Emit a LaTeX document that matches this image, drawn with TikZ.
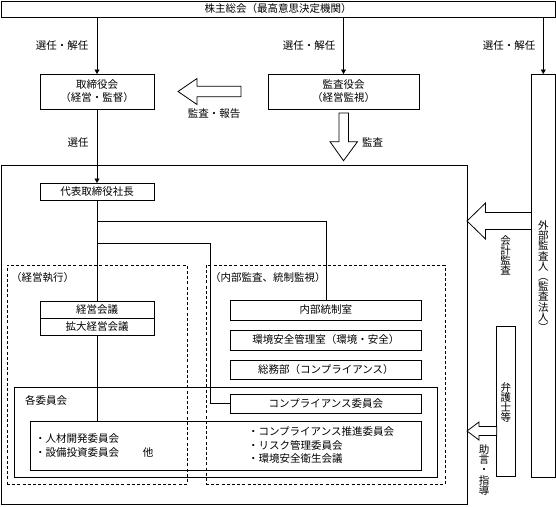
\documentclass[tikz,border=0pt]{standalone}
\usepackage{fontspec}
\newfontfamily\jp{Noto Sans CJK JP}
\usetikzlibrary{arrows.meta}
\newcommand\blkleft[6]{% tip x, y, head base x, end x, head half, shaft half
  \draw[hollow] (#1,#2) -- (#3,#2-#5) -- (#3,#2-#6) -- (#4,#2-#6) -- (#4,#2+#6) -- (#3,#2+#6) -- (#3,#2+#5) -- cycle;}
\begin{document}
\begin{tikzpicture}[x=1pt,y=-1pt,
  every node/.style={font=\jp\fontsize{10.5}{13}\selectfont, inner sep=0pt, outer sep=0pt},
  box/.style={draw, line width=0.8pt, align=center},
  conn/.style={line width=0.6pt},
  arr/.style={conn,-{Triangle[length=4.5pt,width=5pt]}},
  hollow/.style={draw, line width=0.8pt, fill=white, line join=miter},
  dashbox/.style={draw, line width=0.8pt, dash pattern=on 3pt off 2.2pt},
  vtext/.style={align=center, font=\jp\fontsize{10.5}{10.2}\selectfont}
]
\useasboundingbox (0,0) rectangle (556,506);

% top
\node[box, minimum width=554pt, minimum height=16pt] (top) at (278,9) {株主総会（最高意思決定機関）};
\node[box, minimum width=114pt, minimum height=35pt] (tori) at (97,91.5) {取締役会\\（経営・監督）};
\node[box, minimum width=151pt, minimum height=35pt] (kansa) at (343.5,91.5) {監査役会\\（経営監視）};
\node[box, minimum width=23.5pt, minimum height=403pt] (ext) at (543.25,275.5) {};
\node[vtext] (exttxt) at (543.25,276) {外\\部\\監\\査\\人\\︵\\監\\査\\法\\人\\︶};

\draw[arr] (tori.north |- top.south) -- (tori.north);
\draw[arr] (kansa.north |- top.south) -- (kansa.north);
\draw[arr] (ext.north |- top.south) -- (ext.north);
\node (l1) at (62,46) {選任・解任};
\node (l2) at (309,46) {選任・解任};
\node (l3) at (509,46) {選任・解任};

% block arrows top
\blkleft{178}{91.5}{197}{241}{13}{5.3}
\node (l4) at (214,114) {監査・報告};
\draw[hollow] (343.5,160.7) -- (330,141.7) -- (339,141.7) -- (339,113) -- (348.5,113) -- (348.5,141.7) -- (357.5,141.7) -- cycle;
\node (l5) at (372.7,142.7) {監査};

% big box
\node[box, minimum width=466pt, minimum height=339pt] (big) at (234,334.5) {};
\node[box, minimum width=114pt, minimum height=17pt] (daihyo) at (97,191.5) {代表取締役社長};
\draw[arr] (tori.south) -- (daihyo.north);
\node (l6) at (78,143) {選任};

% dashed groups
\node[dashbox, minimum width=180pt, minimum height=219pt] (grpL) at (97,374.5) {};
\node[dashbox, minimum width=239pt, minimum height=219pt] (grpR) at (325.5,374.5) {};
\node[anchor=west] (grpLt) at (11,277.5) {（経営執行）};
\node[anchor=west] (grpRt) at (210,277.5) {（内部監査、統制監視）};

% executive
\node[box, minimum width=114pt, minimum height=17pt] (keiei) at (97,309.5) {経営会議};
\node[box, minimum width=114pt, minimum height=17pt] (kakudai) at (97,326.5) {拡大経営会議};

% internal
\node[box, minimum width=191.7pt, minimum height=20pt] (naibu) at (325.85,310) {内部統制室};
\node[box, minimum width=191.7pt, minimum height=20pt] (kankyo) at (325.85,340) {環境安全管理室（環境・安全）};
\node[box, minimum width=191.7pt, minimum height=19.5pt] (somu) at (325.85,369.75) {総務部（コンプライアンス）};

% committees
\node[box, minimum width=423pt, minimum height=90pt] (kakuiin) at (225.5,432) {};
\node[anchor=west] (kakuiint) at (25,400.5) {各委員会};
\node[box, minimum width=191.7pt, minimum height=19.5pt] (comp) at (325.85,403.75) {コンプライアンス委員会};
\node[box, minimum width=391.7pt, minimum height=49pt] (list) at (225.85,445.5) {};
\node[anchor=west] (li1) at (35,439) {・人材開発委員会};
\node[anchor=west] (li2) at (35,452.7) {・設備投資委員会};
\node (li3) at (148,452.7) {他};
\node[anchor=west] (ri1) at (248,432) {・コンプライアンス推進委員会};
\node[anchor=west] (ri2) at (248,445.5) {・リスク管理委員会};
\node[anchor=west] (ri3) at (248,459) {・環境安全衛生会議};

% connectors inside
\draw[conn] (daihyo.south) -- (keiei.north);
\draw[conn] (kakudai.south) -- (kakudai.south |- list.north);
\coordinate (b1) at (97,221);
\draw[conn] (b1) -| (naibu.north);
\coordinate (b2) at (97,243);
\coordinate (b2e) at (210,243);
\draw[conn] (b2) -- (b2e) |- (comp.west);

% external side
\blkleft{467}{221}{485.5}{531.5}{18}{8.5}
\node[vtext] (kaikei) at (505.7,255.5) {会\\計\\監\\査};
\node[box, minimum width=18.3pt, minimum height=150pt] (bengo) at (505.85,401.7) {};
\node[vtext] (bengot) at (505.85,402.5) {弁\\護\\士\\等};
\blkleft{467}{431}{479}{496.7}{9}{4.5}
\node[vtext] (jogen) at (484,470) {助\\言\\・\\指\\導};
\end{tikzpicture}
\end{document}
